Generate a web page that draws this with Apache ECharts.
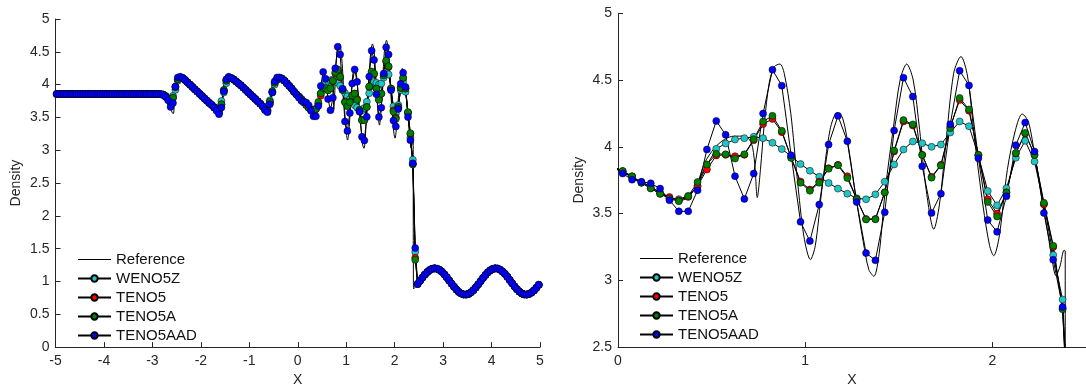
<!DOCTYPE html>
<html>
<head>
<meta charset="utf-8">
<script src="https://cdn.jsdelivr.net/npm/echarts@6/dist/echarts.min.js"></script>
<style>
  html, body { margin: 0; padding: 0; background: #fff; }
  #chart { width: 1086px; height: 392px; }
</style>
</head>
<body>
<div id="chart"></div>
<script>
// Shu-Osher density profile at t = 1.8, 200 cells on [-5, 5]

// cell centres
const xPlateau = [-4.975, -4.925, -4.875, -4.825, -4.775, -4.725, -4.675, -4.625, -4.575, -4.525,
  -4.475, -4.425, -4.375, -4.325, -4.275, -4.225, -4.175, -4.125, -4.075, -4.025,
  -3.975, -3.925, -3.875, -3.825, -3.775, -3.725, -3.675, -3.625, -3.575, -3.525,
  -3.475, -3.425, -3.375, -3.325, -3.275, -3.225, -3.175, -3.125, -3.075, -3.025,
  -2.975, -2.925, -2.875];
const xMid = [-2.825, -2.775, -2.725, -2.675, -2.625, -2.575, -2.525, -2.475, -2.425, -2.375,
  -2.325, -2.275, -2.225, -2.175, -2.125, -2.075, -2.025, -1.975, -1.925, -1.875,
  -1.825, -1.775, -1.725, -1.675, -1.625, -1.575, -1.525, -1.475, -1.425, -1.375,
  -1.325, -1.275, -1.225, -1.175, -1.125, -1.075, -1.025, -0.975, -0.925, -0.875,
  -0.825, -0.775, -0.725, -0.675, -0.625, -0.575, -0.525, -0.475, -0.425, -0.375,
  -0.325, -0.275, -0.225, -0.175, -0.125, -0.075, -0.025, 0.025, 0.075, 0.125,
  0.175, 0.225, 0.275, 0.325, 0.375, 0.425, 0.475, 0.525, 0.575, 0.625,
  0.675, 0.725, 0.775, 0.825, 0.875, 0.925, 0.975, 1.025, 1.075, 1.125,
  1.175, 1.225, 1.275, 1.325, 1.375, 1.425, 1.475, 1.525, 1.575, 1.625,
  1.675, 1.725, 1.775, 1.825, 1.875, 1.925, 1.975, 2.025, 2.075, 2.125,
  2.175, 2.225, 2.275, 2.325, 2.375, 2.425];
const xPost = [2.475, 2.525, 2.575, 2.625, 2.675, 2.725, 2.775, 2.825, 2.875, 2.925,
  2.975, 3.025, 3.075, 3.125, 3.175, 3.225, 3.275, 3.325, 3.375, 3.425,
  3.475, 3.525, 3.575, 3.625, 3.675, 3.725, 3.775, 3.825, 3.875, 3.925,
  3.975, 4.025, 4.075, 4.125, 4.175, 4.225, 4.275, 4.325, 4.375, 4.425,
  4.475, 4.525, 4.575, 4.625, 4.675, 4.725, 4.775, 4.825, 4.875, 4.925,
  4.975];

// undisturbed post-shock state (left) and pre-shock entropy wave (right), shared by all schemes
const plateau = [3.857, 3.857, 3.857, 3.857, 3.857, 3.857, 3.857, 3.857, 3.857, 3.857,
  3.857, 3.857, 3.857, 3.857, 3.857, 3.857, 3.857, 3.857, 3.857, 3.857,
  3.857, 3.857, 3.857, 3.857, 3.857, 3.857, 3.857, 3.857, 3.857, 3.857,
  3.857, 3.857, 3.857, 3.857, 3.857, 3.857, 3.857, 3.857, 3.857, 3.857,
  3.857, 3.857, 3.857];
const postShock = [0.962, 1.012, 1.061, 1.106, 1.145, 1.174, 1.193, 1.200, 1.194, 1.177,
  1.148, 1.110, 1.065, 1.016, 0.967, 0.919, 0.876, 0.841, 0.816, 0.802,
  0.801, 0.811, 0.835, 0.868, 0.909, 0.956, 1.005, 1.054, 1.100, 1.140,
  1.171, 1.191, 1.200, 1.196, 1.180, 1.152, 1.116, 1.072, 1.023, 0.973,
  0.925, 0.882, 0.845, 0.818, 0.803, 0.800, 0.810, 0.831, 0.863, 0.903,
  0.949];

// scheme-dependent part, x = -2.825 ... 2.425
const weno5zMid = [3.855, 3.848, 3.83, 3.79, 3.74, 3.83, 3.92, 4.06, 4.10, 4.10,
  4.07, 4.035, 4.00, 3.965, 3.93, 3.895, 3.86, 3.825, 3.79, 3.755,
  3.72, 3.69, 3.66, 3.64, 3.62, 3.75, 3.88, 4.02, 4.09, 4.10,
  4.08, 4.05, 4.02, 3.99, 3.955, 3.92, 3.885, 3.85, 3.815, 3.78,
  3.745, 3.71, 3.67, 3.63, 3.62, 3.76, 3.88, 4.00, 4.07, 4.09,
  4.09, 4.06, 4.02, 3.98, 3.94, 3.89, 3.85, 3.812, 3.776, 3.736,
  3.70, 3.655, 3.612, 3.608, 3.632, 3.707, 3.863, 3.985, 4.025, 4.055,
  4.065, 4.075, 4.065, 4.03, 3.983, 3.93, 3.871, 3.821, 3.776, 3.729,
  3.687, 3.649, 3.615, 3.607, 3.644, 3.739, 3.868, 3.98, 4.04, 4.027,
  4.00, 4.017, 4.107, 4.19, 4.154, 3.935, 3.669, 3.562, 3.69, 3.918,
  4.045, 3.89, 3.57, 3.19, 2.856, 1.45];
const teno5Mid = [3.855, 3.845, 3.82, 3.78, 3.73, 3.80, 3.96, 4.08, 4.11, 4.10,
  4.07, 4.035, 4.00, 3.965, 3.93, 3.895, 3.86, 3.825, 3.79, 3.755,
  3.72, 3.69, 3.65, 3.62, 3.58, 3.70, 3.91, 4.06, 4.11, 4.10,
  4.08, 4.05, 4.02, 3.99, 3.955, 3.92, 3.885, 3.85, 3.815, 3.78,
  3.745, 3.71, 3.67, 3.62, 3.60, 3.73, 3.89, 4.03, 4.09, 4.10,
  4.09, 4.06, 4.02, 3.98, 3.94, 3.89, 3.85, 3.818, 3.779, 3.731,
  3.689, 3.648, 3.624, 3.60, 3.625, 3.706, 3.83, 3.935, 3.94, 3.93,
  3.94, 4.05, 4.17, 4.209, 4.11, 3.92, 3.74, 3.68, 3.74, 3.84,
  3.865, 3.78, 3.61, 3.46, 3.46, 3.66, 3.965, 4.19, 4.16, 3.94,
  3.775, 3.865, 4.15, 4.35, 4.27, 3.94, 3.607, 3.50, 3.66, 3.95,
  4.10, 3.94, 3.57, 3.25, 2.79, 1.36];
const teno5aMid = [3.855, 3.845, 3.82, 3.78, 3.72, 3.80, 3.97, 4.08, 4.11, 4.10,
  4.07, 4.035, 4.00, 3.965, 3.93, 3.895, 3.86, 3.825, 3.79, 3.755,
  3.72, 3.69, 3.65, 3.62, 3.58, 3.70, 3.92, 4.06, 4.11, 4.10,
  4.08, 4.05, 4.02, 3.99, 3.955, 3.92, 3.885, 3.85, 3.815, 3.78,
  3.745, 3.71, 3.67, 3.62, 3.60, 3.74, 3.90, 4.03, 4.09, 4.10,
  4.09, 4.06, 4.02, 3.98, 3.94, 3.89, 3.85, 3.818, 3.779, 3.731,
  3.689, 3.648, 3.612, 3.592, 3.63, 3.736, 3.868, 3.948, 3.944, 3.912,
  3.944, 4.057, 4.19, 4.232, 4.12, 3.917, 3.731, 3.671, 3.731, 3.836,
  3.862, 3.766, 3.607, 3.456, 3.457, 3.658, 3.972, 4.20, 4.168, 3.939,
  3.769, 3.86, 4.14, 4.366, 4.28, 3.939, 3.587, 3.478, 3.657, 3.953,
  4.104, 3.939, 3.581, 3.259, 2.783, 1.33];
const teno5aadMid = [3.853, 3.84, 3.81, 3.76, 3.66, 3.72, 3.97, 4.11, 4.12, 4.10,
  4.07, 4.035, 4.00, 3.965, 3.93, 3.895, 3.86, 3.825, 3.79, 3.755,
  3.72, 3.69, 3.65, 3.60, 3.55, 3.65, 3.90, 4.08, 4.12, 4.10,
  4.08, 4.05, 4.02, 3.99, 3.955, 3.92, 3.885, 3.85, 3.815, 3.78,
  3.745, 3.71, 3.67, 3.61, 3.58, 3.70, 3.88, 4.05, 4.11, 4.11,
  4.09, 4.06, 4.02, 3.98, 3.94, 3.89, 3.85, 3.80, 3.754, 3.738,
  3.727, 3.687, 3.60, 3.517, 3.517, 3.674, 3.98, 4.194, 4.09, 3.78,
  3.61, 3.80, 4.249, 4.577, 4.458, 3.936, 3.438, 3.294, 3.568, 4.017,
  4.232, 4.042, 3.587, 3.204, 3.15, 3.51, 4.122, 4.518, 4.376, 3.855,
  3.505, 3.649, 4.169, 4.57, 4.46, 3.915, 3.452, 3.363, 3.63, 4.012,
  4.182, 3.965, 3.505, 3.154, 2.80, 1.51];

// high-resolution reference solution
const refX = [-5, -2.90, -2.84, -2.78, -2.72, -2.67, -2.62, -2.59, -2.565, -2.545,
  -2.525, -2.50, -2.46, -2.42, -2.05, -1.70, -1.64, -1.60, -1.575, -1.55,
  -1.52, -1.49, -1.44, -1.40, -1.05, -0.70, -0.64, -0.60, -0.575, -0.55,
  -0.52, -0.49, -0.44, -0.40, -0.20, -0.10, 0.0, 0.05, 0.10, 0.15,
  0.20, 0.25, 0.30, 0.34, 0.38, 0.42, 0.463, 0.515, 0.568, 0.62,
  0.677, 0.712, 0.73, 0.744, 0.761, 0.782, 0.808, 0.835, 0.865, 0.888,
  0.923, 0.958, 0.993, 1.028, 1.054, 1.089, 1.133, 1.17, 1.20, 1.236,
  1.27, 1.31, 1.34, 1.367, 1.395, 1.428, 1.472, 1.507, 1.542, 1.577,
  1.611, 1.646, 1.687, 1.716, 1.75, 1.793, 1.832, 1.867, 1.907, 1.95,
  1.985, 2.007, 2.037, 2.08, 2.124, 2.159, 2.194, 2.238, 2.281, 2.316,
  2.339, 2.36, 2.383, 2.389, 2.389, 2.425];
const refY = [3.857, 3.857, 3.85, 3.835, 3.80, 3.74, 3.64, 3.57, 3.56, 3.78,
  4.00, 4.10, 4.13, 4.125, 3.87, 3.62, 3.57, 3.54, 3.60, 3.85,
  4.05, 4.12, 4.13, 4.115, 3.87, 3.63, 3.57, 3.55, 3.62, 3.85,
  4.03, 4.10, 4.12, 4.11, 3.98, 3.90, 3.83, 3.79, 3.75, 3.72,
  3.68, 3.64, 3.61, 3.60, 3.63, 3.71, 3.88, 3.99, 4.055, 4.08,
  4.08, 4.03, 3.88, 3.62, 3.83, 4.18, 4.48, 4.60, 4.62, 4.55,
  4.25, 3.756, 3.33, 3.155, 3.26, 3.68, 4.13, 4.254, 4.216, 3.955,
  3.63, 3.29, 3.08, 3.03, 3.20, 3.68, 4.154, 4.50, 4.62, 4.50,
  4.13, 3.68, 3.383, 3.557, 4.005, 4.55, 4.676, 4.53, 4.03, 3.557,
  3.26, 3.184, 3.333, 3.83, 4.13, 4.246, 4.18, 3.83, 3.48, 3.184,
  3.035, 3.10, 3.226, 3.22, 0.885, 0.915];
const refTailX = [5.0];
const refTailY = [0.974];

const xTicksLeft = { min: -5, max: 5, step: 1 };
const yTicksLeft = { min: 0, max: 5, step: 0.5 };
const xTicksRight = { min: 0, max: 2.5, step: 1 };
const yTicksRight = { min: 2.5, max: 5, step: 0.5 };

const xs = xPlateau.concat(xMid, xPost);
const schemes = [
  { name: 'WENO5Z', fill: '#22c4c4', mid: weno5zMid },
  { name: 'TENO5', fill: '#ff0000', mid: teno5Mid },
  { name: 'TENO5A', fill: '#008000', mid: teno5aMid },
  { name: 'TENO5AAD', fill: '#0000ff', mid: teno5aadMid }
];

const FONT = "'Liberation Sans', Arial, sans-serif";
const INK = '#262626';

function pairs(xa, ya) { return xa.map((x, i) => [x, ya[i]]); }

const refData = pairs(refX.concat(xPost, refTailX), refY.concat(postShock, refTailY));

function axisX(t, gi) {
  return {
    type: 'value', gridIndex: gi, min: t.min, max: t.max, interval: t.step,
    name: 'X', nameLocation: 'middle', nameGap: 23,
    nameTextStyle: { fontFamily: FONT, fontSize: 14, color: INK },
    axisLine: { show: true, onZero: false, lineStyle: { color: INK, width: 1 } },
    axisTick: { show: true, inside: true, length: 5, lineStyle: { color: INK, width: 1 } },
    axisLabel: { fontFamily: FONT, fontSize: 14, color: INK, margin: 7, showMaxLabel: gi === 0 },
    splitLine: { show: false }
  };
}
function axisY(t, gi, gap) {
  return {
    type: 'value', gridIndex: gi, min: t.min, max: t.max, interval: t.step,
    name: 'Density', nameLocation: 'middle', nameGap: gap,
    nameTextStyle: { fontFamily: FONT, fontSize: 14, color: INK },
    axisLine: { show: true, onZero: false, lineStyle: { color: INK, width: 1 } },
    axisTick: { show: true, inside: true, length: 5, lineStyle: { color: INK, width: 1 } },
    axisLabel: { fontFamily: FONT, fontSize: 14, color: INK, margin: 6 },
    splitLine: { show: false }
  };
}

const series = [];
[0, 1].forEach(gi => {
  series.push({
    type: 'line', name: 'Reference', xAxisIndex: gi, yAxisIndex: gi,
    data: refData, symbol: 'none', smooth: 0.3,
    lineStyle: { color: '#000', width: 1 }, itemStyle: { color: '#000' },
    silent: true, clip: true
  });
  schemes.forEach(s => {
    series.push({
      type: 'line', name: s.name, xAxisIndex: gi, yAxisIndex: gi,
      data: pairs(xs, plateau.concat(s.mid, postShock)),
      symbol: 'circle', symbolSize: 7, showSymbol: true,
      lineStyle: { color: '#000', width: 1 },
      itemStyle: { color: s.fill, borderColor: '#000', borderWidth: 0.5 },
      silent: true, clip: true
    });
  });
});

// legend: plain line for the reference, line with marker for the schemes
const legendNames = ['Reference', 'WENO5Z', 'TENO5', 'TENO5A', 'TENO5AAD'];
function legend(left, top) {
  return {
    data: legendNames.map(n => n === 'Reference'
      ? { name: n, icon: 'path://M0,0 L33,0 L33,1 L0,1 Z', itemStyle: { color: '#000', borderWidth: 0 } }
      : { name: n }),
    orient: 'vertical', left: left, top: top, padding: 0,
    itemWidth: 33, itemHeight: 8, itemGap: 4, selectedMode: false,
    textStyle: { fontFamily: FONT, fontSize: 15, color: '#111', lineHeight: 14 }
  };
}

const chart = echarts.init(document.getElementById('chart'), null, { renderer: 'canvas' });
chart.setOption({
  animation: false,
  backgroundColor: '#fff',
  grid: [
    { left: 55.5, top: 19, width: 484.5, height: 330.5 },
    { left: 618, top: 13.3, width: 476.25, height: 335 }
  ],
  xAxis: [axisX(xTicksLeft, 0), axisX(xTicksRight, 1)],
  yAxis: [axisY(yTicksLeft, 0, 32), axisY(yTicksRight, 1, 32)],
  legend: [legend(77, 252), legend(639, 251)],
  series: series
});
</script>
</body>
</html>
